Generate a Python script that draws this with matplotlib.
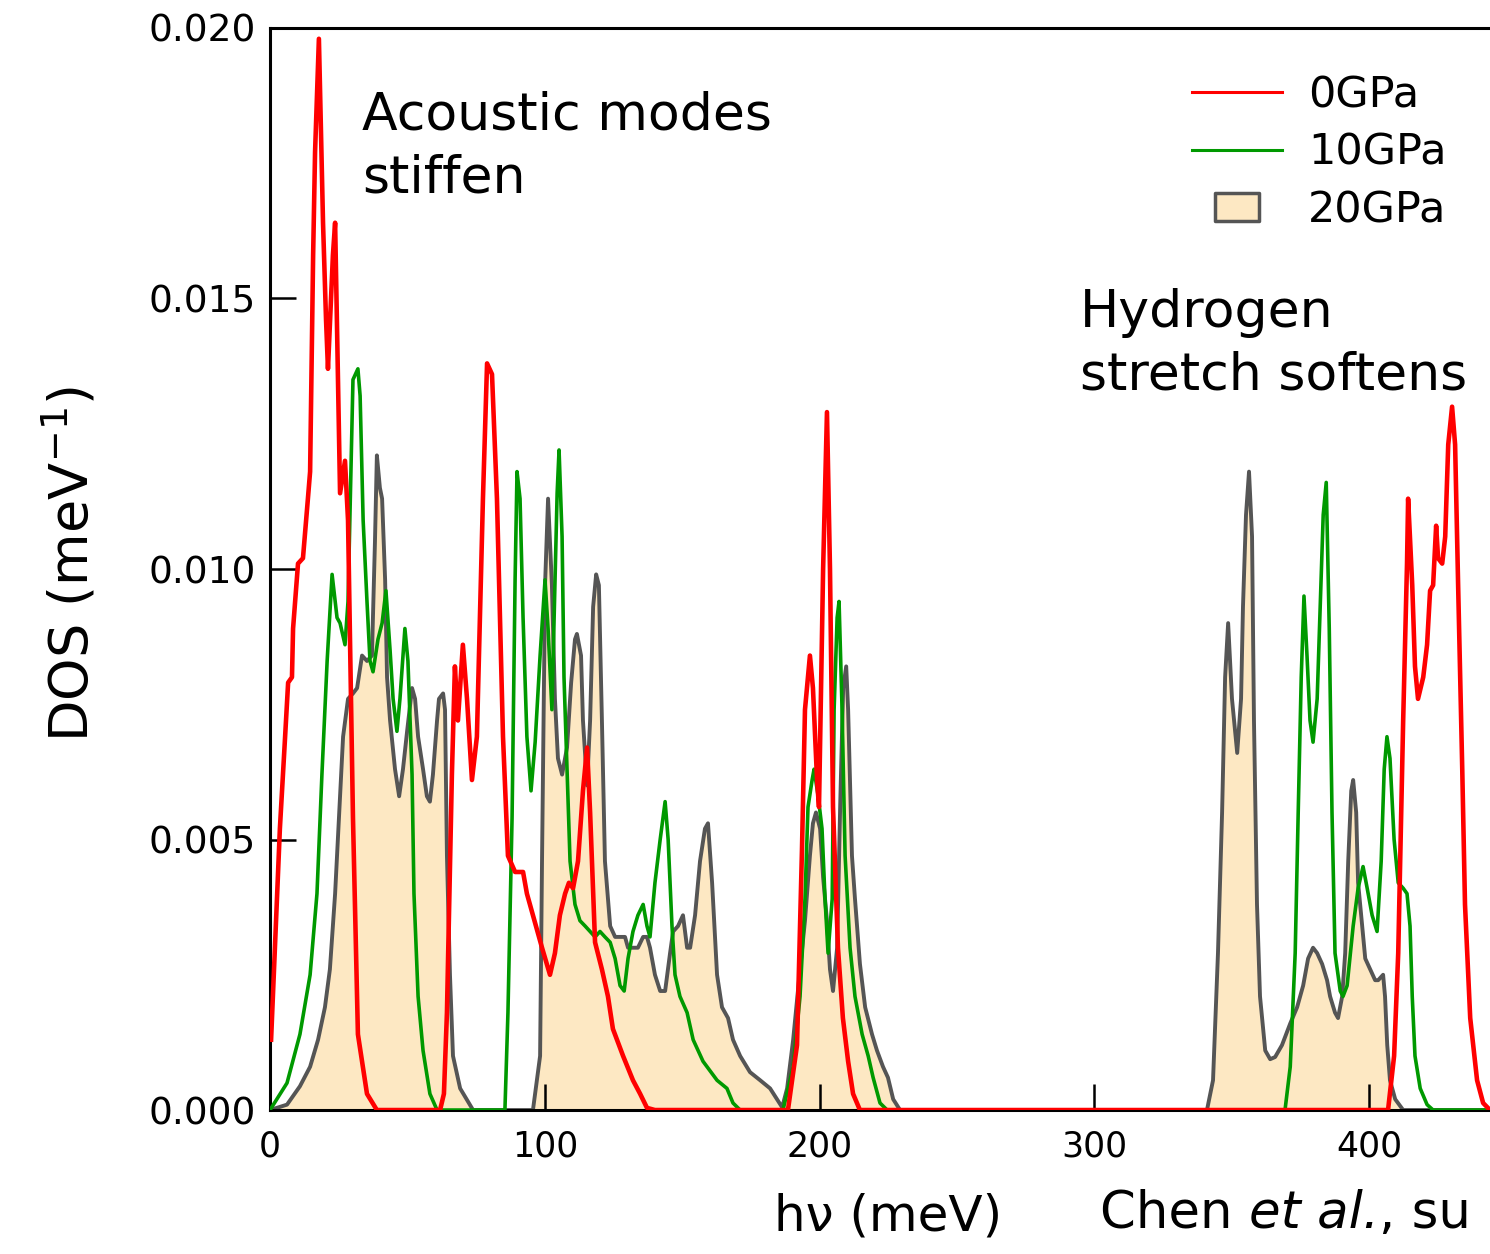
import matplotlib.pyplot as plt
from matplotlib.path import Path
from matplotlib.lines import Line2D

# DOS curves (x in meV, y in 1/meV)
# 0 GPa
red_x = [0.4, 3.6, 5.5, 6.6, 8.0, 8.4, 10.2, 12.0, 13.8, 14.6,
         15.7, 16.4, 17.8, 19.3, 20.4, 21.1, 22.9, 23.7, 25.5, 27.3,
         28.4, 30.2, 32.0, 35.3, 38.9,
         61.9, 63.3, 64.4, 66.2, 67.3, 68.4, 70.2, 71.7, 73.5, 75.3,
         77.5, 79.0, 80.8, 82.6, 84.8, 86.6, 89.2, 92.1, 93.5, 95.7,
         99.0, 101.9, 103.7, 105.5, 107.4, 108.8, 110.3, 112.1, 113.9, 115.4,
         116.5, 118.3, 120.8, 123.0, 124.8, 128.5, 132.1, 134.7, 137.2, 140.1,
         188.5, 191.8, 193.6, 194.7, 196.5, 197.6, 199.1, 199.8, 201.3, 202.7,
         203.8, 204.9, 206.7, 208.5, 210.4, 212.2, 214.7,
         406.9, 409.1, 410.6, 412.4, 413.8, 414.2, 415.7, 416.7, 417.8, 419.7,
         421.1, 422.2, 423.3, 424.4, 425.1, 426.6, 427.7, 428.8, 430.2, 431.3,
         432.4, 433.9, 434.9, 436.8, 439.3, 441.5, 444.0]
red_y = [0.0013, 0.0052, 0.0069, 0.0079, 0.0080, 0.0089, 0.0101, 0.0102, 0.0113, 0.0118,
         0.0158, 0.0177, 0.0198, 0.0164, 0.0146, 0.0137, 0.0158, 0.0164, 0.0114, 0.0120,
         0.0109, 0.0054, 0.0014, 0.0003, 0,
         0, 0.0003, 0.0018, 0.0062, 0.0082, 0.0072, 0.0086, 0.0076, 0.0061, 0.0069,
         0.0113, 0.0138, 0.0136, 0.0113, 0.0069, 0.0047, 0.0044, 0.0044, 0.0040, 0.0036,
         0.0030, 0.0025, 0.0029, 0.0036, 0.0040, 0.0042, 0.0041, 0.0046, 0.0059, 0.0067,
         0.0055, 0.0031, 0.0026, 0.0021, 0.0015, 0.0010, 0.00055, 0.0003, 0.00004, 0,
         0, 0.0012, 0.0048, 0.0074, 0.0084, 0.0078, 0.0061, 0.0056, 0.0100, 0.0129,
         0.0100, 0.0056, 0.0030, 0.0017, 0.0009, 0.0003, 0,
         0, 0.0010, 0.0029, 0.0072, 0.0101, 0.0113, 0.0097, 0.0082, 0.0076, 0.0080,
         0.0086, 0.0096, 0.0097, 0.0108, 0.0102, 0.0101, 0.0106, 0.0123, 0.0130, 0.0123,
         0.0097, 0.0063, 0.0038, 0.0017, 0.00055, 0.00013, 0]

# 10 GPa
green_x = [0, 6.2, 10.9, 14.6, 17.1, 18.9, 20.8, 22.6, 24.4, 25.5,
           27.3, 28.4, 30.2, 32.0, 32.8, 33.9, 35.3, 36.4, 37.5, 39.3,
           40.8, 42.2, 43.7, 44.8, 46.2, 47.3, 49.1, 50.2, 51.7, 52.4,
           53.9, 55.7, 58.2, 60.8,
           85.5, 86.6, 88.1, 89.2, 89.9, 91.0, 92.1, 93.5, 95.0, 96.5,
           98.3, 100.1, 101.2, 102.6, 103.7, 104.5, 105.2, 106.3, 107.0, 108.1,
           109.2, 111.0, 112.8, 114.7, 116.5, 118.3, 120.1, 121.9, 123.8, 125.6,
           127.4, 128.9, 130.3, 132.1, 133.9, 135.8, 137.2, 138.3, 140.1, 142.0,
           143.8, 144.9, 146.3, 147.4, 149.2, 151.8, 154.0, 157.6, 162.7, 166.3,
           168.5, 171.1,
           186.7, 190.4, 192.9, 194.7, 195.8, 197.3, 198.0, 199.5, 200.9, 202.0,
           203.1, 204.6, 205.3, 206.4, 207.1, 208.2, 209.3, 211.1, 212.9, 215.5,
           217.7, 219.5, 222.0, 224.6,
           369.4, 371.3, 373.1, 374.2, 375.3, 376.3, 377.4, 378.5, 379.6, 381.1,
           382.2, 383.3, 384.4, 385.5, 386.5, 387.6, 389.5, 390.5, 392.0, 394.2,
           396.0, 397.8, 399.3, 401.1, 402.9, 404.4, 405.5, 406.5, 407.6, 409.1,
           410.6, 412.4, 413.8, 414.9, 415.7, 416.7, 418.6, 421.1, 423.3, 444.0]
green_y = [0, 0.0005, 0.0014, 0.0025, 0.0040, 0.0062, 0.0083, 0.0099, 0.0091, 0.0090,
           0.0086, 0.0094, 0.0135, 0.0137, 0.0132, 0.0109, 0.0094, 0.0083, 0.0081, 0.0087,
           0.0090, 0.0096, 0.0085, 0.0076, 0.0070, 0.0076, 0.0089, 0.0083, 0.0062, 0.0040,
           0.0021, 0.0011, 0.0003, 0,
           0, 0.0018, 0.0054, 0.0098, 0.0118, 0.0113, 0.0091, 0.0069, 0.0059, 0.0068,
           0.0084, 0.0098, 0.0089, 0.0074, 0.0097, 0.0114, 0.0122, 0.0106, 0.0080, 0.0063,
           0.0046, 0.0038, 0.0035, 0.0034, 0.0033, 0.0032, 0.0033, 0.0032, 0.0031, 0.0028,
           0.0023, 0.0022, 0.0028, 0.0033, 0.0036, 0.0038, 0.0034, 0.0032, 0.0042, 0.0050,
           0.0057, 0.0050, 0.0034, 0.0025, 0.0021, 0.0018, 0.0013, 0.0009, 0.00055, 0.0004,
           0.00013, 0,
           0, 0.0008, 0.0021, 0.0039, 0.0056, 0.0061, 0.0063, 0.0058, 0.0052, 0.0039,
           0.0029, 0.0039, 0.0074, 0.0091, 0.0094, 0.0074, 0.0047, 0.0030, 0.0021, 0.0014,
           0.0010, 0.0006, 0.00013, 0,
           0, 0.0008, 0.0029, 0.0055, 0.0080, 0.0095, 0.0084, 0.0072, 0.0068, 0.0076,
           0.0093, 0.0110, 0.0116, 0.0089, 0.0055, 0.0029, 0.0022, 0.0021, 0.0023, 0.0034,
           0.0041, 0.0045, 0.0041, 0.0036, 0.0033, 0.0046, 0.0063, 0.0069, 0.0065, 0.0050,
           0.0042, 0.0041, 0.0040, 0.0034, 0.0021, 0.0010, 0.0004, 0.0001, 0, 0]

# 20 GPa (filled)
grey_x = [0, 6.2, 10.9, 14.6, 17.5, 20.0, 21.8, 23.7, 25.1,
          26.6, 28.4, 30.2, 31.7, 33.5, 35.3, 37.1, 38.2, 38.9, 40.0,
          40.8, 41.9, 42.6, 43.7, 45.5, 47.0, 48.4, 49.9, 51.7, 52.8,
          53.9, 55.7, 57.1, 58.2, 59.3, 60.8, 61.5, 63.0, 63.7, 64.4,
          65.5, 66.6, 69.2, 73.9,
          95.7, 98.3, 99.0, 100.1, 101.2, 102.6, 103.7, 104.8, 106.3, 108.1,
          109.6, 111.0, 111.7, 113.2, 113.9, 115.4, 116.5, 117.6, 118.7, 119.7,
          120.8, 121.9, 123.8, 125.6, 127.4, 129.2, 130.3, 132.1, 133.9, 135.8,
          137.2, 138.3, 140.1, 142.0, 143.8, 145.6, 146.7, 148.5, 150.3, 151.8,
          152.9, 154.7, 156.5, 158.3, 159.4, 160.9, 162.7, 164.5, 166.7, 168.5,
          171.1, 174.7, 178.4, 182.0, 184.5, 186.4,
          188.2, 190.4, 192.9, 194.7, 196.5, 197.6, 198.7, 200.2, 201.3, 202.7,
          203.8, 204.9, 206.4, 207.5, 208.6, 209.7, 210.4, 211.8, 212.9, 214.7,
          216.6, 219.1, 220.9, 223.1, 224.9, 226.8, 229.3,
          341.0, 343.2, 345.0, 346.5, 347.6, 348.7, 350.1, 352.0, 353.4, 354.1,
          355.2, 356.3, 357.4, 358.1, 359.2, 360.3, 362.2, 364.0, 365.8, 368.3,
          371.3, 373.8, 376.0, 377.8, 379.6, 381.1, 382.9, 384.7, 385.8, 387.6,
          388.7, 390.2, 391.3, 392.4, 393.5, 394.2, 395.3, 396.0, 397.5, 398.6,
          400.4, 402.2, 403.3, 405.1, 405.8, 406.6, 407.6, 409.5, 412.4, 444.0]
grey_y = [0, 0.0001, 0.00044, 0.0008, 0.0013, 0.0019, 0.0026, 0.0040, 0.0054,
          0.0069, 0.0076, 0.0077, 0.0078, 0.0084, 0.0083, 0.0084, 0.0105, 0.0121, 0.0115,
          0.0113, 0.0098, 0.0080, 0.0072, 0.0063, 0.0058, 0.0063, 0.0070, 0.0078, 0.0076,
          0.0069, 0.0063, 0.0058, 0.0057, 0.0062, 0.0072, 0.0076, 0.0077, 0.0074, 0.0047,
          0.0025, 0.0010, 0.0004, 0,
          0, 0.0010, 0.0046, 0.0097, 0.0113, 0.0097, 0.0076, 0.0065, 0.0062, 0.0067,
          0.0079, 0.0087, 0.0088, 0.0084, 0.0072, 0.0060, 0.0072, 0.0093, 0.0099, 0.0097,
          0.0072, 0.0046, 0.0034, 0.0032, 0.0032, 0.0032, 0.0030, 0.0030, 0.0030, 0.0032,
          0.0032, 0.0030, 0.0025, 0.0022, 0.0022, 0.0029, 0.0033, 0.0034, 0.0036, 0.0030,
          0.0030, 0.0036, 0.0046, 0.0052, 0.0053, 0.0042, 0.0025, 0.0019, 0.0017, 0.0013,
          0.0010, 0.0007, 0.00055, 0.0004, 0.0002, 0.00005,
          0.0004, 0.0013, 0.0026, 0.0035, 0.0047, 0.0053, 0.0055, 0.0052, 0.0043, 0.0035,
          0.0026, 0.0022, 0.0030, 0.0056, 0.0078, 0.0082, 0.0074, 0.0047, 0.0039, 0.0027,
          0.0019, 0.0014, 0.0011, 0.0008, 0.0006, 0.0002, 0,
          0, 0.00055, 0.0029, 0.0055, 0.0080, 0.0090, 0.0076, 0.0066, 0.0076, 0.0093,
          0.0110, 0.0118, 0.0106, 0.0072, 0.0038, 0.0021, 0.0011, 0.00094, 0.00098, 0.0012,
          0.0016, 0.0019, 0.0023, 0.0028, 0.0030, 0.0029, 0.0027, 0.0024, 0.0021, 0.0018,
          0.0017, 0.0021, 0.0029, 0.0046, 0.0059, 0.0061, 0.0055, 0.0042, 0.0034, 0.0028,
          0.0026, 0.0024, 0.0024, 0.0025, 0.0021, 0.0012, 0.00055, 0.0002, 0, 0]

labels = ['0GPa', '10GPa', '20GPa']
x_ticks = [0, 100, 200, 300, 400]
y_ticks = [0.000, 0.005, 0.010, 0.015, 0.020]

red = '#ff0000'
green = '#009900'
grey = '#555555'
fill = '#fde8c3'

fig = plt.figure(figsize=(14.9, 12.54), dpi=100)
ax = fig.add_axes([0.1812, 0.1148, 0.8188, 0.8629])

ax.fill_between(grey_x, grey_y, 0, color=fill, lw=0, zorder=1)
ax.plot(grey_x, grey_y, color=grey, lw=2.8, zorder=2, solid_joinstyle='round')
ax.plot(green_x, green_y, color=green, lw=2.6, zorder=3, solid_joinstyle='round')
ax.plot(red_x, red_y, color=red, lw=3.3, zorder=4, solid_joinstyle='round')

ax.set_xlim(0, 444)
ax.set_ylim(0, 0.020)
ax.set_xticks(x_ticks)
ax.set_yticks(y_ticks)
ax.set_yticklabels(['%.3f' % v for v in y_ticks])
ax.tick_params(direction='in', length=19, width=1.8)
ax.tick_params(axis='y', labelsize=27, pad=10)
ax.tick_params(axis='x', labelsize=25, pad=14)
for s in ['left', 'bottom', 'top']:
    ax.spines[s].set_linewidth(2.2)
ax.spines['right'].set_visible(False)

ax.set_xlabel('hν (meV)', fontsize=36)
ax.xaxis.set_label_coords(0.507, -0.076)
ax.set_ylabel('DOS (meV$^{-1}$)', fontsize=39)
ax.yaxis.set_label_coords(-0.140, 0.505)

ax.text(33.5, 0.01885, 'Acoustic modes\nstiffen', fontsize=37.5, va='top', ha='left',
        linespacing=1.33)
ax.text(294.8, 0.0152, 'Hydrogen\nstretch softens', fontsize=37.5, va='top', ha='left',
        linespacing=1.33)

rect = Path([(-1, -0.62), (1, -0.62), (1, 0.62), (-1, 0.62), (-1, -0.62)], closed=True)
handles = [
    Line2D([], [], color=red, lw=2.2),
    Line2D([], [], color=green, lw=2.2),
    Line2D([], [], ls='none', marker=rect, markersize=31.5,
           markerfacecolor=fill, markeredgecolor=grey, markeredgewidth=2.5),
]
ax.legend(handles, labels, loc='upper left', bbox_to_anchor=(0.7557, 0.957),
          frameon=False, fontsize=31, handlelength=2.1, handletextpad=0.6,
          labelspacing=0.36, borderpad=0, borderaxespad=0)

# credit line, cut off at the right edge as in the original
t1 = fig.text(1100 / 1490, 0.012, 'Chen ', fontsize=37, ha='left', va='bottom')
t2 = ax.annotate('et al.', xy=(1, 0), xycoords=t1, fontsize=37, style='italic',
                 ha='left', va='bottom', annotation_clip=False)
t3 = ax.annotate(', su', xy=(1, 0), xycoords=t2, fontsize=37,
                 ha='left', va='bottom', annotation_clip=False)

fig.savefig('out.png', dpi=100)
